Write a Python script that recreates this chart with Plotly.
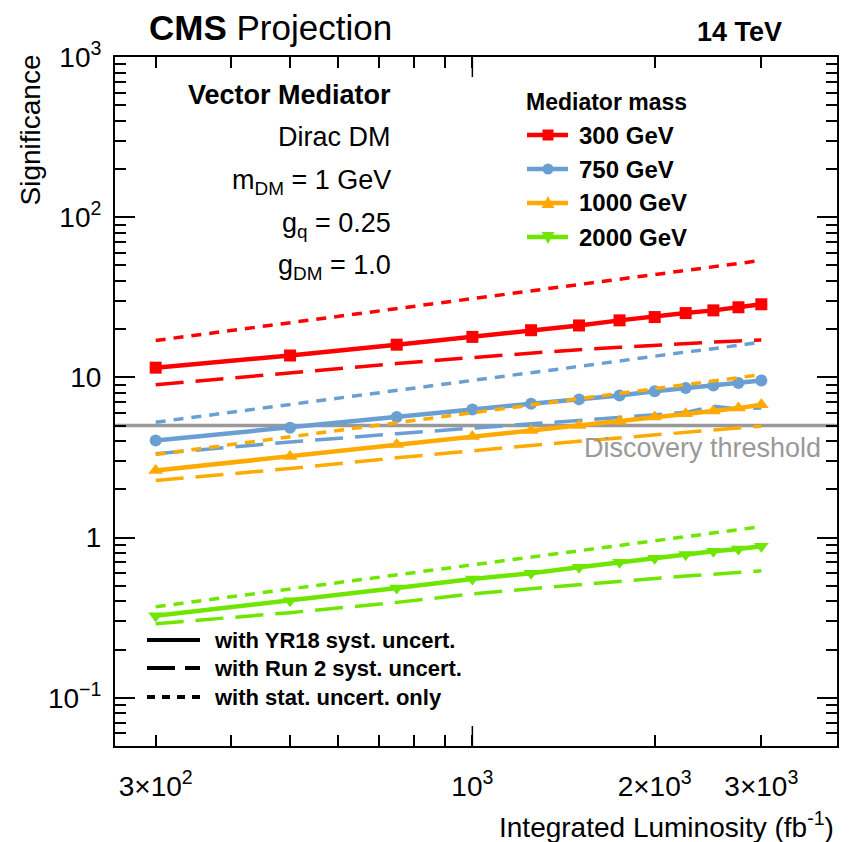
import math
import plotly.graph_objects as go

# ---------------- data ----------------
lumi = [300, 500, 750, 1000, 1250, 1500, 1750, 2000, 2250, 2500, 2750, 3000]

masses = ["300 GeV", "750 GeV", "1000 GeV", "2000 GeV"]

sig_yr18 = {
    "300 GeV": [11.5, 13.7, 16.0, 17.9, 19.7, 21.1, 22.7, 23.8, 25.2, 26.2, 27.4, 28.6],
    "750 GeV": [4.04, 4.85, 5.65, 6.3, 6.85, 7.29, 7.72, 8.18, 8.58, 8.91, 9.21, 9.57],
    "1000 GeV": [2.62, 3.21, 3.81, 4.28, 4.66, 5.01, 5.33, 5.65, 5.93, 6.16, 6.43, 6.75],
    "2000 GeV": [0.325, 0.404, 0.485, 0.552, 0.598, 0.652, 0.701, 0.742, 0.783, 0.821, 0.850, 0.883],
}
sig_run2 = {
    "300 GeV": [9.0, 10.7, 12.2, 13.3, 14.2, 14.9, 15.4, 15.9, 16.3, 16.6, 16.9, 17.1],
    "750 GeV": [3.34, 3.95, 4.45, 4.85, 5.13, 5.38, 5.6, 5.8, 6.05, 6.6, 6.35, 6.45],
    "1000 GeV": [2.27, 2.7, 3.15, 3.5, 3.76, 4.0, 4.2, 4.36, 4.52, 4.68, 4.82, 4.96],
    "2000 GeV": [0.29, 0.34, 0.394, 0.445, 0.48, 0.51, 0.535, 0.555, 0.575, 0.59, 0.605, 0.62],
}
sig_stat = {
    "300 GeV": [17.0, 21.9, 26.8, 31.0, 34.6, 37.9, 41.0, 43.8, 46.5, 49.0, 51.4, 53.7],
    "750 GeV": [5.25, 6.8, 8.3, 9.6, 10.7, 11.7, 12.7, 13.5, 14.4, 15.1, 15.9, 16.6],
    "1000 GeV": [3.3, 4.25, 5.2, 6.0, 6.7, 7.35, 7.95, 8.5, 9.0, 9.5, 9.95, 10.4],
    "2000 GeV": [0.37, 0.478, 0.585, 0.675, 0.755, 0.827, 0.893, 0.955, 1.013, 1.068, 1.12, 1.17],
}

discovery_threshold = 5.0

x_tickvals = [300, 1000, 2000, 3000]
x_ticktext = ["3×10<sup>2</sup>", "10<sup>3</sup>", "2×10<sup>3</sup>", "3×10<sup>3</sup>"]
x_minor = [400, 500, 600, 700, 800, 900]
y_tickvals = [0.1, 1, 10, 100, 1000]
y_ticktext = ["10<sup>−1</sup>", "1", "10", "10<sup>2</sup>", "10<sup>3</sup>"]

x_range = [257, 4000]
y_range = [0.05, 1000]

# ---------------- style ----------------
colors = {"300 GeV": "#ff0000", "750 GeV": "#6a9fd4",
          "1000 GeV": "#ffaa00", "2000 GeV": "#6ee600"}
symbols = {"300 GeV": "square", "750 GeV": "circle",
           "1000 GeV": "triangle-up", "2000 GeV": "triangle-down"}
FONT = "Liberation Sans, Arial, Helvetica, sans-serif"

W, H = 850, 842
L, R, T, B = 115, 837, 57, 746


def px(x):
    return (x - L) / (R - L)


def py(y):
    return 1 - (y - T) / (B - T)


fig = go.Figure()

# discovery threshold line
fig.add_trace(go.Scatter(x=x_range, y=[discovery_threshold] * 2, mode="lines",
                         line=dict(color="#999999", width=3.5), hoverinfo="skip"))

for m in masses:
    c = colors[m]
    fig.add_trace(go.Scatter(x=lumi, y=sig_run2[m], mode="lines",
                             line=dict(color=c, width=3.5, dash="28px,12px")))
    fig.add_trace(go.Scatter(x=lumi, y=sig_stat[m], mode="lines",
                             line=dict(color=c, width=3.5, dash="10px,8px")))
    fig.add_trace(go.Scatter(x=lumi, y=sig_yr18[m], mode="lines+markers",
                             line=dict(color=c, width=4.5),
                             marker=dict(symbol=symbols[m], color=c,
                                         size=13 if "triangle" in symbols[m] else 12,
                                         line=dict(width=0))))

shapes = []
annotations = []

# longer major tick at 10^3 (bottom and top)
lx = (math.log10(1000) - math.log10(x_range[0])) / (math.log10(x_range[1]) - math.log10(x_range[0]))
shapes.append(dict(type="line", xref="paper", yref="paper", x0=lx, x1=lx,
                   y0=0, y1=20 / (B - T), line=dict(color="black", width=1.5)))
shapes.append(dict(type="line", xref="paper", yref="paper", x0=lx, x1=lx,
                   y0=1, y1=1 - 20 / (B - T), line=dict(color="black", width=1.5)))

# ---- header texts
annotations.append(dict(text="<b>CMS</b> Projection", x=px(147), y=py(28), xref="paper", yref="paper",
                        xanchor="left", yanchor="middle", showarrow=False,
                        font=dict(family=FONT, size=35, color="black")))
annotations.append(dict(text="<b>14 TeV</b>", x=px(784), y=py(32), xref="paper", yref="paper",
                        xanchor="right", yanchor="middle", showarrow=False,
                        font=dict(family=FONT, size=27, color="black")))

# ---- model text block
model_lines = [("<b>Vector Mediator</b>", 95), ("Dirac DM", 137),
               ("m<sub>DM</sub> = 1 GeV", 182), ("g<sub>q</sub> = 0.25", 225),
               ("g<sub>DM</sub> = 1.0", 267)]
for txt, yy in model_lines:
    annotations.append(dict(text=txt, x=px(393), y=py(yy), xref="paper", yref="paper",
                            xanchor="right", yanchor="middle", showarrow=False,
                            font=dict(family=FONT, size=27, color="black")))

# ---- mediator mass legend
annotations.append(dict(text="<b>Mediator mass</b>", x=px(524), y=py(102), xref="paper", yref="paper",
                        xanchor="left", yanchor="middle", showarrow=False,
                        font=dict(family=FONT, size=23, color="black")))
leg_y = [135, 169, 203, 237]
for m, yy in zip(masses, leg_y):
    c = colors[m]
    shapes.append(dict(type="line", xref="paper", yref="paper", x0=px(527), x1=px(568),
                       y0=py(yy), y1=py(yy), line=dict(color=c, width=4.5)))
    s = symbols[m]
    if s == "square":
        shapes.append(dict(type="rect", xref="paper", yref="paper", x0=px(542.5), x1=px(553.5),
                           y0=py(yy - 5.5), y1=py(yy + 5.5), fillcolor=c, line=dict(width=0)))
    elif s == "circle":
        shapes.append(dict(type="circle", xref="paper", yref="paper", x0=px(542.5), x1=px(553.5),
                           y0=py(yy - 5.5), y1=py(yy + 5.5), fillcolor=c, line=dict(width=0)))
    elif s == "triangle-up":
        shapes.append(dict(type="path", xref="paper", yref="paper",
                           path=f"M {px(541.5)} {py(yy + 5)} L {px(554.5)} {py(yy + 5)} L {px(548)} {py(yy - 7)} Z",
                           fillcolor=c, line=dict(width=0)))
    else:
        shapes.append(dict(type="path", xref="paper", yref="paper",
                           path=f"M {px(541.5)} {py(yy - 5)} L {px(554.5)} {py(yy - 5)} L {px(548)} {py(yy + 7)} Z",
                           fillcolor=c, line=dict(width=0)))
    annotations.append(dict(text=f"<b>{m}</b>", x=px(577), y=py(yy), xref="paper", yref="paper",
                            xanchor="left", yanchor="middle", showarrow=False,
                            font=dict(family=FONT, size=24, color="black")))

# ---- uncertainty style legend
style_items = [("with YR18 syst. uncert.", "solid", 640),
               ("with Run 2 syst. uncert.", "28px,10px", 668),
               ("with stat. uncert. only", "8px,7px", 697)]
for txt, dash, yy in style_items:
    shapes.append(dict(type="line", xref="paper", yref="paper", x0=px(147), x1=px(200),
                       y0=py(yy), y1=py(yy), line=dict(color="black", width=4, dash=dash)))
    annotations.append(dict(text=f"<b>{txt}</b>", x=px(212), y=py(yy), xref="paper", yref="paper",
                            xanchor="left", yanchor="middle", showarrow=False,
                            font=dict(family=FONT, size=22, color="black")))

# ---- discovery threshold label
annotations.append(dict(text="Discovery threshold", x=px(823), y=py(448), xref="paper", yref="paper",
                        xanchor="right", yanchor="middle", showarrow=False,
                        font=dict(family=FONT, size=27, color="#999999")))

# ---- axis titles
annotations.append(dict(text="Significance", x=px(30), y=py(53), xref="paper", yref="paper",
                        xanchor="center", yanchor="top", textangle=-90, showarrow=False,
                        font=dict(family=FONT, size=28, color="black")))
annotations.append(dict(text="Integrated Luminosity (fb<sup>-1</sup>)", x=px(836), y=py(825),
                        xref="paper", yref="paper", xanchor="right", yanchor="middle",
                        showarrow=False, font=dict(family=FONT, size=28, color="black")))

y_minor = []
for e in range(-2, 3):
    for k in range(2, 10):
        v = k * 10 ** e
        if y_range[0] <= v <= y_range[1]:
            y_minor.append(v)

fig.update_layout(
    width=W, height=H,
    margin=dict(l=L, r=W - R, t=T, b=H - B, pad=0),
    paper_bgcolor="white", plot_bgcolor="white",
    showlegend=False,
    font=dict(family=FONT, size=28, color="black"),
    shapes=shapes, annotations=annotations,
    xaxis=dict(type="log", range=[math.log10(x_range[0]), math.log10(x_range[1])],
               tickmode="array", tickvals=x_tickvals, ticktext=x_ticktext,
               ticks="inside", ticklen=11, tickwidth=1.5, tickcolor="black",
               showline=True, linecolor="black", linewidth=2, mirror="allticks",
               showgrid=False, zeroline=False, ticklabelstandoff=14,
               minor=dict(tickmode="array", tickvals=x_minor, ticks="inside", ticklen=11,
                          tickwidth=1.5, tickcolor="black", showgrid=False),
               tickfont=dict(family=FONT, size=28, color="black")),
    yaxis=dict(type="log", range=[math.log10(y_range[0]), math.log10(y_range[1])],
               tickmode="array", tickvals=y_tickvals, ticktext=y_ticktext,
               ticks="inside", ticklen=20, tickwidth=1.5, tickcolor="black",
               showline=True, linecolor="black", linewidth=2, mirror="allticks",
               showgrid=False, zeroline=False, ticklabelstandoff=6,
               minor=dict(tickmode="array", tickvals=y_minor, ticks="inside", ticklen=11,
                          tickwidth=1.5, tickcolor="black", showgrid=False),
               tickfont=dict(family=FONT, size=28, color="black")),
)

fig.write_html("out.html")
